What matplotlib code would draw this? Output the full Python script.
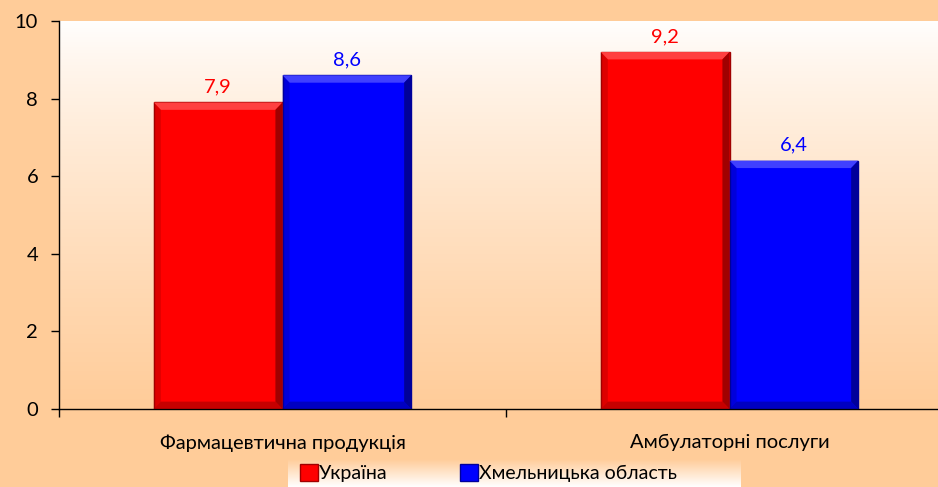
import numpy as np
import matplotlib.pyplot as plt
from matplotlib.patches import Rectangle

categories = ["Фармацевтична продукція", "Амбулаторні послуги"]
ukraine = [7.9, 9.2]
khmelnytskyi = [8.6, 6.4]
series_names = ["Україна", "Хмельницька область"]
yticks = [0, 2, 4, 6, 8, 10]

plt.rcParams['font.family'] = ['Lato', 'DejaVu Sans']

bg = "#FFCC99"
fig = plt.figure(figsize=(9.38, 4.87), dpi=100, facecolor=bg)
# plot area runs off the right edge like the original
ax = fig.add_axes([59 / 938, 1 - 409 / 487, 894 / 938, 388 / 487])
ax.set_facecolor(bg)

# white-to-peach gradient inside plot area
grad = np.linspace(0, 1, 256).reshape(-1, 1)
top = np.array([1.0, 1.0, 1.0])
bot = np.array([1.0, 0.80, 0.60])
img = top + (bot - top) * grad[:, :, None] ** 0.8
ax.imshow(img, extent=[0, 1, 0, 1], transform=ax.transAxes, aspect='auto', zorder=0)

x = np.arange(len(categories))
w = 0.288
off = 0.144


def bevel_bars(xs, vals, face, dark, light):
    bars = ax.bar(xs, vals, width=w, color=face, edgecolor=dark, linewidth=1.0, zorder=2)
    dx = w * 0.055
    dy = 0.19
    for b in bars:
        x0, y0, bw, bh = b.get_x(), b.get_y(), b.get_width(), b.get_height()
        # top highlight band
        ax.fill([x0, x0 + bw, x0 + bw - dx, x0 + dx], [y0 + bh, y0 + bh, y0 + bh - dy, y0 + bh - dy],
                color=light, zorder=3, lw=0)
        # right shadow band
        ax.fill([x0 + bw, x0 + bw, x0 + bw - dx, x0 + bw - dx], [y0 + bh, y0, y0 + dy, y0 + bh - dy],
                color=dark, zorder=3, lw=0)
        # bottom shadow band
        ax.fill([x0, x0 + bw, x0 + bw - dx, x0 + dx], [y0, y0, y0 + dy, y0 + dy],
                color=dark, alpha=0.6, zorder=3, lw=0)
        # left darker band
        ax.fill([x0, x0, x0 + dx, x0 + dx], [y0, y0 + bh, y0 + bh - dy, y0 + dy],
                color=dark, alpha=0.35, zorder=3, lw=0)
    return bars


bevel_bars(x - off, ukraine, "#FF0000", "#A00000", "#FF4040")
bevel_bars(x + off, khmelnytskyi, "#0000FF", "#00009A", "#4040FF")

for xi, v in zip(x - off, ukraine):
    ax.text(xi, v + 0.18, f"{v:.1f}".replace(".", ","), ha='center', va='bottom',
            color="#FF0000", fontsize=14.5)
for xi, v in zip(x + off, khmelnytskyi):
    ax.text(xi, v + 0.18, f"{v:.1f}".replace(".", ","), ha='center', va='bottom',
            color="#0000FF", fontsize=14.5)

ax.set_xlim(-0.5, 1.5)
ax.set_ylim(0, 10)
ax.set_yticks(yticks)
ax.set_yticklabels([str(t) for t in yticks], fontsize=14.5)
ax.set_xticks([-0.5, 0.5, 1.5])
ax.set_xticklabels([])
ax.set_xticks(x, minor=True)
ax.set_xticklabels(categories, minor=True, fontsize=14.5)
ax.tick_params(axis='x', which='minor', length=0, pad=18)
ax.tick_params(axis='both', which='major', length=6, width=1, direction='out', color='black')
ax.tick_params(axis='y', pad=9)
for s in ['top', 'right']:
    ax.spines[s].set_visible(False)
ax.spines['left'].set_linewidth(1)
ax.spines['bottom'].set_linewidth(1)

# legend box with gradient
lax = fig.add_axes([288 / 938, 0, 452 / 938, 28 / 487])
lax.axis('off')
lgrad = np.linspace(0, 1, 64).reshape(-1, 1)
limg = bot + (top - bot) * lgrad[:, :, None]
lax.imshow(limg, extent=[0, 1, 0, 1], aspect='auto')
lax.set_xlim(0, 1)
lax.set_ylim(0, 1)
for px, name, face, dark in [(300, series_names[0], "#FF0000", "#A00000"),
                             (460, series_names[1], "#0000FF", "#00009A")]:
    lx = (px - 288) / 452
    lax.add_patch(Rectangle((lx, 0.2), 18 / 452, 0.62, facecolor=face, edgecolor=dark, lw=1))
    lax.text(lx + 19 / 452, 0.5, name, va='center', ha='left', fontsize=14)

fig.savefig("out.png", dpi=100, facecolor=bg)
